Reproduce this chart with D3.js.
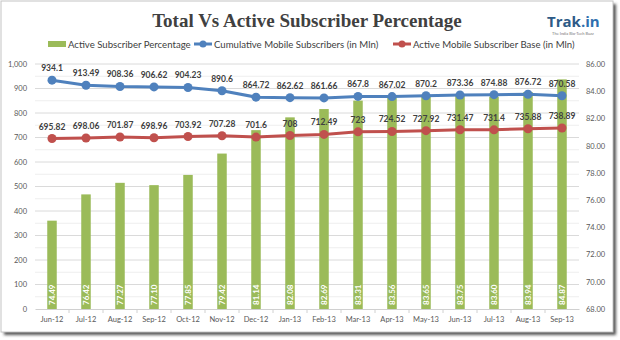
<!DOCTYPE html>
<html>
<head>
<meta charset="utf-8">
<script src="https://cdn.jsdelivr.net/npm/d3@7"></script>
<style>
  body { margin: 0; background: #fff; }
  svg { display: block; }
  text { font-family: Lato, "Open Sans", sans-serif; }
</style>
</head>
<body>
<div id="chart"></div>
<script>
// chart data
const months = ["Jun-12", "Jul-12", "Aug-12", "Sep-12", "Oct-12", "Nov-12", "Dec-12", "Jan-13",
  "Feb-13", "Mar-13", "Apr-13", "May-13", "Jun-13", "Jul-13", "Aug-13", "Sep-13"];
const activePct = [74.49, 76.42, 77.27, 77.10, 77.85, 79.42, 81.14, 82.08,
  82.69, 83.31, 83.56, 83.65, 83.75, 83.60, 83.94, 84.87];
const cumulative = [934.1, 913.49, 908.36, 906.62, 904.23, 890.6, 864.72, 862.62,
  861.66, 867.8, 867.02, 870.2, 873.36, 874.88, 876.72, 870.58];
const activeBase = [695.82, 698.06, 701.87, 698.96, 703.92, 707.28, 701.6, 708,
  712.49, 723, 724.52, 727.92, 731.47, 731.4, 735.88, 738.89];
const leftTicks = [0, 100, 200, 300, 400, 500, 600, 700, 800, 900, 1000];
const rightTicks = [68, 70, 72, 74, 76, 78, 80, 82, 84, 86];
const seriesNames = ["Active Subscriber Percentage", "Cumulative Mobile Subscribers (in Mln)", "Active Mobile Subscriber Base (in Mln)"];

const W = 620, H = 340;
const margin = { top: 64, right: 41, bottom: 31, left: 35 };
const GREEN = "#9bbb59", BLUE = "#4f81bd", RED = "#c0504d";

const svg = d3.select("#chart").append("svg")
  .attr("width", W).attr("height", H);

// frame with shadow
const defs = svg.append("defs");
defs.append("filter").attr("id", "blur")
  .append("feGaussianBlur").attr("stdDeviation", 1.4);
svg.append("rect").attr("x", 4).attr("y", 4).attr("width", 612).attr("height", 331)
  .attr("fill", "#555").attr("filter", "url(#blur)");
svg.append("rect").attr("x", 1).attr("y", 1).attr("width", 612).attr("height", 331)
  .attr("fill", "#fff").attr("stroke", "#c4c4c4");

const x = d3.scaleBand()
  .domain(months)
  .range([margin.left, W - margin.right]);
const yL = d3.scaleLinear().domain([0, 1000]).range([H - margin.bottom, margin.top]);
const yR = d3.scaleLinear().domain([68, 86]).range([H - margin.bottom, margin.top]);
const cx = d => x(d) + x.bandwidth() / 2;

// gridlines
const plot = svg.append("g");
plot.selectAll("line.minor")
  .data(d3.range(50, 1000, 100))
  .enter().append("line")
  .attr("x1", margin.left).attr("x2", W - margin.right)
  .attr("y1", d => yL(d)).attr("y2", d => yL(d))
  .attr("stroke", "#eeeeee");
plot.selectAll("line.major")
  .data(leftTicks.slice(1))
  .enter().append("line")
  .attr("x1", margin.left).attr("x2", W - margin.right)
  .attr("y1", d => yL(d)).attr("y2", d => yL(d))
  .attr("stroke", "#dadada");

// left axis
const axL = svg.append("g")
  .attr("transform", `translate(${margin.left},0)`)
  .call(d3.axisLeft(yL).tickValues(leftTicks).tickSize(0).tickPadding(8));
axL.select("path.domain").remove();
axL.selectAll("text").style("fill", "#595959").style("font-size", "7.5px");

// right axis
const axR = svg.append("g")
  .attr("transform", `translate(${W - margin.right},0)`)
  .call(d3.axisRight(yR).tickValues(rightTicks).tickSize(0).tickPadding(7).tickFormat(d3.format(".2f")));
axR.select("path.domain").remove();
axR.selectAll("text").style("fill", "#595959").style("font-size", "7.5px");

// bottom axis
const axB = svg.append("g")
  .attr("transform", `translate(0,${H - margin.bottom})`)
  .call(d3.axisBottom(x).tickSize(0).tickPadding(8));
axB.select("path.domain").attr("stroke", "#d0d0d0");
axB.selectAll("text").style("fill", "#595959").style("font-size", "7.5px");
axB.selectAll("line.sep")
  .data(months.slice(1))
  .enter().append("line")
  .attr("x1", d => x(d)).attr("x2", d => x(d))
  .attr("y1", 0).attr("y2", 4)
  .attr("stroke", "#d0d0d0");

// bars
const barW = 9.5;
svg.selectAll("rect.bar")
  .data(months)
  .enter().append("rect")
  .attr("class", "bar")
  .attr("x", d => cx(d) - barW / 2)
  .attr("width", barW)
  .attr("y", (d, i) => yR(activePct[i]))
  .attr("height", (d, i) => yR(68) - yR(activePct[i]))
  .attr("fill", GREEN);

svg.selectAll("text.barlabel")
  .data(months)
  .enter().append("text")
  .attr("transform", d => `translate(${cx(d) + 3},${yR(68) - 4}) rotate(-90)`)
  .attr("fill", "#fff")
  .style("font-size", "8px")
  .style("font-weight", "bold")
  .text((d, i) => activePct[i].toFixed(2));

// lines
function drawLine(values, color) {
  const line = d3.line().x((d, i) => cx(months[i])).y(d => yL(d));
  svg.append("path").datum(values)
    .attr("d", line)
    .attr("fill", "none")
    .attr("stroke", color)
    .attr("stroke-width", 3);
  svg.selectAll(null).data(values).enter().append("circle")
    .attr("cx", (d, i) => cx(months[i]))
    .attr("cy", d => yL(d))
    .attr("r", 4.5)
    .attr("fill", color);
  svg.selectAll(null).data(values).enter().append("text")
    .attr("x", (d, i) => cx(months[i]))
    .attr("y", d => yL(d) - 9)
    .attr("text-anchor", "middle")
    .attr("fill", "#404040")
    .style("font-size", "8.5px")
    .style("font-weight", "bold")
    .text(d => d);
}
drawLine(cumulative, BLUE);
drawLine(activeBase, RED);

// title
svg.append("text")
  .attr("x", 307).attr("y", 27)
  .attr("text-anchor", "middle")
  .attr("fill", "#404040")
  .style("font-family", "'Liberation Serif', 'DejaVu Serif', serif")
  .style("font-size", "19px")
  .style("font-weight", "bold")
  .text("Total Vs Active Subscriber Percentage");

// logo
const logo = svg.append("text")
  .attr("x", 547).attr("y", 27)
  .style("font-family", "'Open Sans', sans-serif")
  .style("font-size", "15px")
  .style("font-weight", "bold");
logo.append("tspan").attr("fill", "#2d5a86").text("Trak");
logo.append("tspan").attr("fill", "#2f6fae").text(".in");
svg.append("text")
  .attr("x", 573).attr("y", 35)
  .attr("text-anchor", "middle")
  .attr("fill", "#777")
  .style("font-size", "4px")
  .text("The India Bio-Tech Buzz");

// legend
const legend = svg.append("g").attr("transform", "translate(0,44)");
const legendX = [48, 194, 393];
const legendColors = [GREEN, BLUE, RED];
seriesNames.forEach((name, i) => {
  const g = legend.append("g").attr("transform", `translate(${legendX[i]},0)`);
  if (i === 0) {
    g.append("rect").attr("x", 0).attr("y", -3).attr("width", 18).attr("height", 6).attr("fill", GREEN);
  } else {
    g.append("line").attr("x1", 0).attr("x2", 18).attr("y1", 0).attr("y2", 0)
      .attr("stroke", legendColors[i]).attr("stroke-width", 3);
    g.append("circle").attr("cx", 9).attr("cy", 0).attr("r", 3.5).attr("fill", legendColors[i]);
  }
  g.append("text")
    .attr("x", 20).attr("y", 3.5)
    .attr("fill", "#404040")
    .style("font-size", "9.6px")
    .text(name);
});
</script>
</body>
</html>
